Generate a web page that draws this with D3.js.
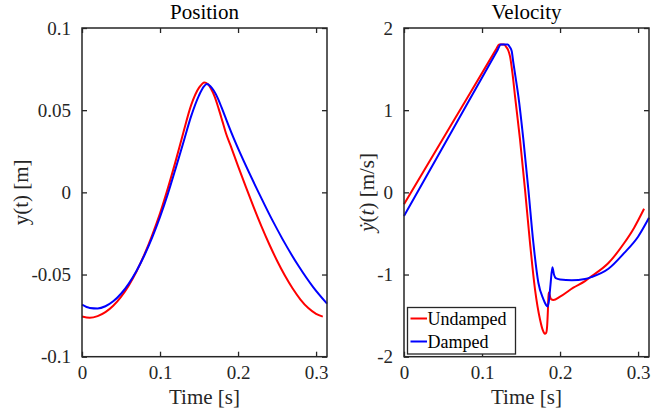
<!DOCTYPE html>
<html>
<head>
<meta charset="utf-8">
<script src="https://cdn.jsdelivr.net/npm/d3@7"></script>
<style>
body{margin:0;background:#fff;}
svg{display:block;}
</style>
</head>
<body>
<svg id="content" width="653" height="419" font-family="Liberation Serif, DejaVu Serif, Noto Serif, Times New Roman, serif"></svg>
<script>
//Data-----------------------------------------------------------
var timeTicks=[0,0.1,0.2,0.3];
var posTicks=[-0.1,-0.05,0,0.05,0.1];
var posTickLabels=["-0.1","-0.05","0","0.05","0.1"];
var velTicks=[-2,-1,0,1,2];
var velTickLabels=["-2","-1","0","1","2"];
var seriesNames=["Undamped","Damped"];
var seriesColors=["#ff0000","#0000ff"];
var FONT="Liberation Serif, DejaVu Serif, Noto Serif, Times New Roman, serif";

//position y(t) [m]
var posUndampedT=[0,0.01,0.02,0.03,0.04,0.05,0.06,0.07,0.08,0.09,0.10,0.11,0.12,0.13,0.14,0.15,0.157,0.161,0.165,0.170,0.175,0.180,0.1846,0.19,0.20,0.21,0.22,0.23,0.24,0.25,0.26,0.27,0.28,0.29,0.30,0.3086];
var posUndampedY=[-0.0755,-0.0763,-0.0753,-0.0729,-0.0690,-0.0636,-0.0566,-0.0480,-0.0378,-0.0260,-0.0128,0.0024,0.0190,0.0366,0.0532,0.0637,0.0669,0.0660,0.0633,0.0582,0.0511,0.0432,0.0358,0.0290,0.0160,0.0033,-0.0090,-0.0207,-0.0316,-0.0416,-0.0506,-0.0585,-0.0652,-0.0704,-0.0739,-0.0756];
var posDampedT=[0,0.01,0.02,0.03,0.04,0.05,0.06,0.07,0.08,0.09,0.10,0.11,0.12,0.13,0.14,0.15,0.156,0.160,0.1645,0.169,0.1744,0.179,0.1842,0.188,0.2308,0.2436,0.2778,0.296,0.314];
var posDampedY=[-0.0683,-0.0703,-0.0706,-0.0693,-0.0663,-0.0617,-0.0555,-0.0477,-0.0383,-0.0274,-0.0150,-0.0010,0.0145,0.0305,0.0465,0.0590,0.0643,0.0659,0.0646,0.0618,0.0569,0.0515,0.0451,0.0404,-0.0044,-0.0166,-0.0450,-0.0575,-0.0677];

//velocity dy/dt [m/s]
var velUndampedT=[0,0.06,0.118,0.1218,0.1282,0.131,0.1335,0.1359,0.139,0.1423,0.1487,0.1551,0.1615,0.1679,0.1744,0.178,0.1805,0.1822,0.1835,0.1845,0.1853,0.1862,0.1885,0.1914,0.200,0.217,0.232,0.2406,0.262,0.282,0.295,0.3077];
var velUndampedV=[-0.146,0.813,1.74,1.80,1.80,1.77,1.73,1.655,1.45,1.168,0.641,0.033,-0.616,-1.18,-1.55,-1.68,-1.72,-1.71,-1.62,-1.42,-1.22,-1.24,-1.30,-1.31,-1.27,-1.16,-1.08,-1.02,-0.86,-0.62,-0.43,-0.20];
var velDampedT=[0,0.062,0.12,0.124,0.1329,0.1355,0.138,0.1402,0.143,0.1466,0.153,0.1594,0.1658,0.1722,0.1786,0.182,0.184,0.1856,0.1878,0.1902,0.1922,0.1945,0.200,0.215,0.232,0.2406,0.262,0.282,0.300,0.314];
var velDampedV=[-0.288,0.756,1.733,1.80,1.80,1.77,1.72,1.574,1.40,1.168,0.641,0.033,-0.616,-1.10,-1.30,-1.37,-1.39,-1.33,-1.12,-0.91,-1.00,-1.045,-1.06,-1.07,-1.055,-1.03,-0.93,-0.74,-0.54,-0.31];

function zip(ts,vs){
	return ts.map(function(t,i){return {t:t,v:vs[i]};});
}

//Draws one panel------------------------------------------------
function drawPanel(svg,box,cfg){
	var x=d3.scaleLinear().domain([0,0.314]).range([box.left,box.right]);
	var y=d3.scaleLinear().domain(cfg.yDomain).range([box.bottom,box.top]);
	var g=svg.append("g");

	var line=d3.line()
		.x(function(d){return x(d.t);})
		.y(function(d){return y(d.v);})
		.curve(d3.curveMonotoneX);

	//lines
	g.selectAll("path.series")
		.data(cfg.series)
		.enter()
		.append("path")
		.attr("class","series")
		.attr("d",function(s){return line(s.values);})
		.style("fill","none")
		.style("stroke",function(s){return s.color;})
		.style("stroke-width",2)
		.style("stroke-linejoin","round");

	//axes, ticks pointing in
	var bottom=d3.axisBottom(x).tickValues(timeTicks).tickSizeInner(-5).tickSizeOuter(0).tickPadding(9)
		.tickFormat(function(d){return d===0?"0":d3.format(".1f")(d);});
	var top=d3.axisTop(x).tickValues(timeTicks).tickSizeInner(-5).tickSizeOuter(0).tickFormat("");
	var left=d3.axisLeft(y).tickValues(cfg.yTicks).tickSizeInner(-5).tickSizeOuter(0).tickPadding(11)
		.tickFormat(function(d,i){return cfg.yTickLabels[i];});
	var right=d3.axisRight(y).tickValues(cfg.yTicks).tickSizeInner(-5).tickSizeOuter(0).tickFormat("");

	var axes=[
		g.append("g").attr("transform","translate(0,"+box.bottom+")").call(bottom),
		g.append("g").attr("transform","translate(0,"+box.top+")").call(top),
		g.append("g").attr("transform","translate("+box.left+",0)").call(left),
		g.append("g").attr("transform","translate("+box.right+",0)").call(right)
	];
	axes.forEach(function(a){
		a.attr("font-family",FONT).attr("font-size",19);
		a.select(".domain").remove();
		a.selectAll("line").style("stroke","#262626").style("stroke-width",1.3);
		a.selectAll("text").attr("fill","#262626");
	});

	g.append("rect")
		.attr("x",box.left).attr("y",box.top)
		.attr("width",box.right-box.left).attr("height",box.bottom-box.top)
		.style("fill","none").style("stroke","#262626").style("stroke-width",1.5);

	//title and labels
	var cx=(box.left+box.right)/2;
	g.append("text").attr("x",cx).attr("y",19).attr("text-anchor","middle")
		.attr("font-family",FONT).attr("font-size",21).attr("fill","#000").text(cfg.title);
	g.append("text").attr("x",cx).attr("y",404).attr("text-anchor","middle")
		.attr("font-family",FONT).attr("font-size",21).attr("fill","#262626").text("Time [s]");
	var yl=g.append("text")
		.attr("transform","translate("+cfg.yLabelX+","+((box.top+box.bottom)/2)+") rotate(-90)")
		.attr("text-anchor","middle").attr("font-family",FONT).attr("font-size",21).attr("fill","#262626");
	cfg.yLabel(yl);

	return {x:x,y:y,g:g};
}

function draw(){
	var svg=d3.select("#content");

	drawPanel(svg,{left:82,right:327,top:28,bottom:356.7},{
		title:"Position",
		yDomain:[-0.1,0.1],
		yTicks:posTicks,
		yTickLabels:posTickLabels,
		yLabelX:28,
		yLabel:function(t){t.text("y(t) [m]");},
		series:[
			{name:seriesNames[0],color:seriesColors[0],values:zip(posUndampedT,posUndampedY)},
			{name:seriesNames[1],color:seriesColors[1],values:zip(posDampedT,posDampedY)}
		]
	});

	var vel=drawPanel(svg,{left:404,right:649,top:28,bottom:356.7},{
		title:"Velocity",
		yDomain:[-2,2],
		yTicks:velTicks,
		yTickLabels:velTickLabels,
		yLabelX:374,
		yLabel:function(t){
			t.append("tspan").attr("font-style","italic").text("\u1E8F");
			t.append("tspan").text("(");
			t.append("tspan").attr("font-style","italic").text("t");
			t.append("tspan").text(") [m/s]");
		},
		series:[
			{name:seriesNames[0],color:seriesColors[0],values:zip(velUndampedT,velUndampedV)},
			{name:seriesNames[1],color:seriesColors[1],values:zip(velDampedT,velDampedV)}
		]
	});

	//legend, bottom left of velocity panel
	var lg=vel.g.append("g").attr("transform","translate(407.5,307.5)");
	lg.append("rect").attr("width",108).attr("height",46.5)
		.style("fill","#fff").style("stroke","#262626").style("stroke-width",1.3);
	var item=lg.selectAll("g.item")
		.data(seriesNames)
		.enter()
		.append("g")
		.attr("class","item")
		.attr("transform",function(d,i){return "translate(0,"+(11+i*23)+")";});
	item.append("line")
		.attr("x1",3).attr("x2",19.5).attr("y1",0).attr("y2",0)
		.style("stroke",function(d,i){return seriesColors[i];})
		.style("stroke-width",2);
	item.append("text").attr("x",20).attr("y",6)
		.attr("font-family",FONT).attr("font-size",18).attr("fill","#000")
		.text(function(d){return d;});
}

window.onload=draw;
</script>
</body>
</html>
